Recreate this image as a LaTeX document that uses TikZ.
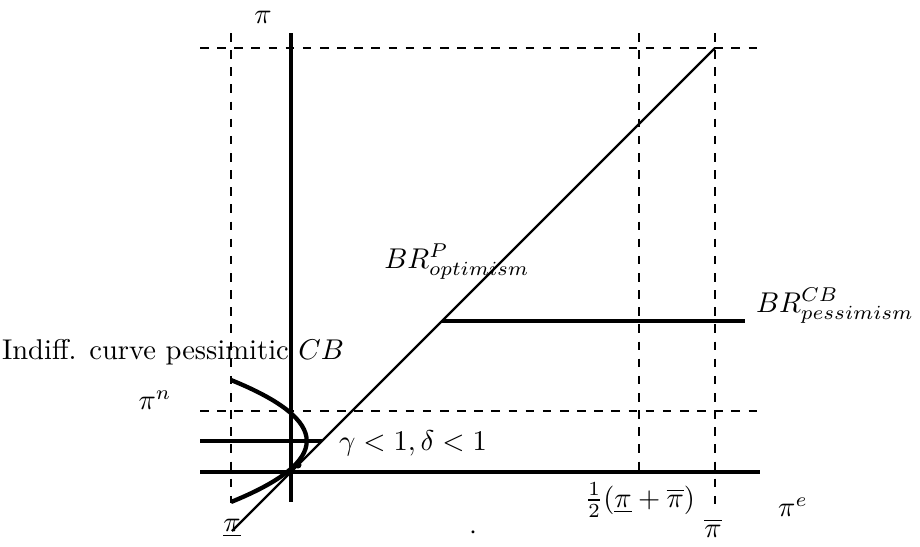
\documentclass[tikz,border=0pt]{standalone}
\usepackage{amsmath, amssymb}
\usetikzlibrary{calc}

\begin{document}
\begin{tikzpicture}[x=0.35pt,y=-0.35pt,
  axisline/.style={line width=1.1pt},
  guide/.style={dashed, line width=0.6pt},
  brline/.style={line width=0.8pt},
  label/.style={inner sep=1pt}]
\useasboundingbox (0,0) rectangle (920,546);
% axes
\coordinate (Ytop) at (291,33);
\coordinate (Ybot) at (291,502);
\coordinate (Xl) at (200,472);
\coordinate (Xr) at (760,472);
\draw[axisline] (Ytop) -- (Ybot);
\draw[axisline] (Xl) -- (Xr);
% guides
\coordinate (Gl) at (231,33);
\coordinate (Glb) at (231,503);
\coordinate (Gm) at (639,33);
\coordinate (Gmb) at (639,472);
\coordinate (Gr) at (715,33);
\coordinate (Grb) at (715,510);
\coordinate (Ht) at (200,48);
\coordinate (Htr) at (760,48);
\coordinate (Hn) at (200,411);
\coordinate (Hnr) at (760,411);
\draw[guide] (Gl) -- (Glb);
\draw[guide] (Gm) -- (Gmb);
\draw[guide] (Gr) -- (Grb);
\draw[guide] (Ht) -- (Htr);
\draw[guide] (Hn) -- (Hnr);
% best responses
\coordinate (Lo) at (232,531);
\coordinate (Hi) at (715,48);
\coordinate (K) at (442,321);
\coordinate (Kr) at (745,321);
\draw[brline] (Lo) -- (Hi);
\draw[axisline] (K) -- (Kr);
\coordinate (Sl) at (200,441);
\coordinate (Sr) at (322,441);
\draw[axisline] (Sl) -- (Sr);
% indifference curve
\coordinate (Ct) at (231,380);
\coordinate (Cb) at (231,502);
\draw[line width=1.5pt] (Ct) .. controls (332,421) and (332,461) .. (Cb);
\fill (298,465) circle (3.5);
% labels
\node[label] (pi) at (263,17) {$\pi$};
\node[label] (pin) at (155,400) {$\pi^n$};
\node[label] (pilow) at (232,528) {$\underline{\pi}$};
\node[label] (dot) at (473,533) {$\cdot$};
\node[label] (half) at (640,500) {$\frac{1}{2}(\underline{\pi}+\overline{\pi})$};
\node[label] (pibar) at (713,528) {$\overline{\pi}$};
\node[label] (pie) at (793,507) {$\pi^e$};
\node[label] (brp) at (457,262) {$BR^P_{optimism}$};
\node[label] (brcb) at (835,306) {$BR^{CB}_{pessimism}$};
\node[label] (gd) at (413,443) {$\gamma<1,\delta<1$};
\node[label] (indiff) at (173,352) {Indiff. curve pessimitic $CB$};
\end{tikzpicture}
\end{document}
